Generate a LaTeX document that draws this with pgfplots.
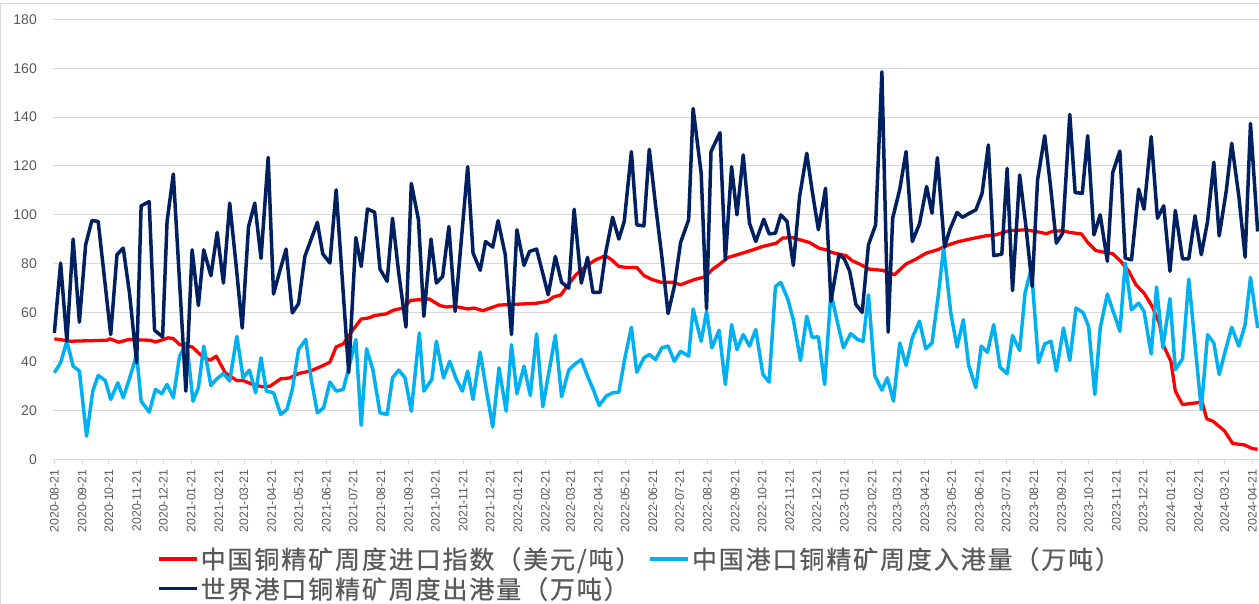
\documentclass[border=0pt]{standalone}
\usepackage{fontspec}
\usepackage{pgfplots}
\usepackage{pgfplotstable}
\pgfplotsset{compat=1.18}
\setmainfont{Liberation Sans}
\newfontfamily\cjk[LetterSpace=7.5,FakeBold=0.6]{Noto Sans CJK SC}
\definecolor{cred}{HTML}{FF0000}
\definecolor{ccyan}{HTML}{00B0F0}
\definecolor{cnavy}{HTML}{002060}
\definecolor{cgrid}{HTML}{D9D9D9}
\definecolor{ctext}{HTML}{595959}

% x = days since 2020-08-21
\pgfplotstableread{
d v
0 49.3
18 48.3
59 48.7
62 49.3
72 47.9
83 49.0
107 48.7
113 48.0
122 49.0
127 49.7
133 49.4
140 46.9
154 46.0
165 42.2
174 40.5
181 42.2
191 35.4
204 32.2
211 32.2
222 30.6
232 29.7
241 29.9
253 32.9
263 33.3
273 35.1
286 36.1
297 37.8
308 39.7
315 46.0
323 47.2
334 53.1
343 57.4
351 57.8
358 58.8
371 59.5
379 61.0
390 61.9
398 65.0
419 65.6
431 62.9
438 62.3
447 62.6
462 61.5
469 61.9
479 60.8
497 63.1
538 63.8
551 64.6
558 66.4
566 67.2
573 70.7
583 75.5
594 78.9
605 81.6
616 83.3
623 81.6
631 78.9
639 78.5
651 78.5
659 75.2
667 73.7
678 72.4
691 72.4
700 71.4
715 73.5
727 74.6
736 77.8
744 79.9
753 82.6
760 83.3
781 85.7
792 87.1
807 88.4
814 90.5
825 90.7
844 88.7
855 86.3
863 85.7
869 84.6
885 83.3
892 81.2
900 79.9
911 77.8
926 77.3
939 75.5
952 79.9
963 81.9
975 84.4
987 85.7
1000 87.8
1011 89.1
1026 90.3
1041 91.4
1052 91.8
1067 93.5
1086 93.9
1101 92.9
1109 92.3
1116 93.3
1127 93.5
1135 92.8
1148 92.2
1155 88.7
1164 85.4
1175 84.6
1183 84.1
1192 81.0
1201 76.9
1209 71.4
1218 68.0
1227 62.6
1235 55.8
1240 46.3
1248 40.1
1253 27.9
1261 22.4
1283 23.4
1288 16.6
1295 15.6
1308 11.6
1317 6.5
1330 5.9
1339 4.4
1345 4.1
}\redtable

\pgfplotstableread{
d v
0 35.4
7 39.5
14 48.3
21 38.1
28 36.1
36 9.5
43 27.9
49 34.3
57 32.2
63 24.5
71 31.3
77 25.2
84 33.0
92 42.9
97 23.8
106 19.3
113 28.6
120 26.8
126 30.6
133 25.2
140 42.2
148 47.6
155 23.8
161 29.3
167 46.3
175 30.2
181 32.7
189 35.1
196 32.0
204 50.3
211 33.3
218 36.5
225 27.2
231 41.5
237 27.9
245 27.2
253 18.4
260 20.4
266 28.6
273 44.9
281 49.0
287 33.0
294 19.0
301 21.1
308 31.6
315 27.9
323 28.6
337 49.0
343 13.9
349 45.2
356 36.7
364 19.0
372 18.4
378 33.3
385 36.5
392 33.3
399 19.7
408 51.7
413 27.9
422 32.7
427 48.3
435 33.3
442 40.1
449 33.0
456 27.9
462 36.1
468 24.5
476 43.8
483 28.0
490 13.2
497 37.4
505 19.7
511 46.9
517 26.8
525 38.1
532 26.1
539 51.3
546 21.5
560 50.7
567 25.6
575 36.5
582 39.0
589 40.8
596 34.0
603 28.0
609 22.0
617 25.9
624 27.2
631 27.5
638 42.0
645 54.0
651 35.6
659 41.5
665 42.9
672 40.8
679 45.6
686 46.3
693 40.1
700 44.2
709 42.2
714 61.5
723 48.3
729 60.5
735 45.6
743 52.8
750 30.6
757 55.1
763 44.9
770 51.0
777 46.3
784 53.1
792 34.7
799 31.6
806 70.7
812 72.4
820 65.3
826 57.1
834 40.4
841 58.5
847 49.9
854 50.1
861 30.6
868 68.0
875 56.5
882 45.6
890 51.4
898 49.0
904 48.3
910 67.3
917 34.3
925 28.3
931 33.3
938 23.8
945 47.6
952 38.4
959 49.7
967 56.5
974 45.2
981 47.6
988 67.0
994 86.4
1002 59.9
1009 45.9
1016 57.1
1022 38.4
1030 29.3
1036 46.3
1043 43.8
1050 55.1
1057 37.7
1065 35.0
1071 50.6
1079 44.5
1085 68.0
1092 78.2
1100 39.5
1107 47.2
1114 48.3
1120 36.1
1128 53.7
1135 40.4
1142 61.9
1150 59.9
1156 54.4
1163 26.5
1169 53.7
1177 67.6
1184 60.0
1191 52.4
1197 80.3
1204 61.2
1212 63.9
1218 60.5
1226 43.1
1232 70.5
1239 45.6
1247 65.7
1253 36.7
1261 41.1
1268 73.7
1275 47.0
1282 20.4
1289 51.0
1296 47.6
1302 34.7
1309 44.6
1316 54.0
1324 46.3
1331 55.1
1337 74.4
1345 53.7
}\cyantable

\pgfplotstableread{
d v
0 51.7
7 80.3
14 48.3
21 90.1
28 56.1
35 87.8
42 97.7
49 97.3
63 51.0
70 83.7
77 86.4
84 68.0
92 39.5
97 103.7
106 105.4
112 52.8
121 50.1
126 97.3
133 116.7
147 27.9
154 85.7
161 62.9
167 85.7
175 75.1
182 92.8
189 72.1
196 104.8
203 80.0
210 53.7
217 95.0
224 104.8
231 82.2
239 123.5
245 67.6
252 77.0
259 86.0
266 59.9
273 63.7
280 83.0
287 90.0
294 96.9
300 84.1
308 80.3
315 110.2
322 73.0
329 35.5
337 90.7
343 78.9
350 102.4
358 101.1
364 77.8
372 72.8
378 98.6
385 76.0
393 54.1
399 112.9
407 98.0
413 58.5
421 90.1
427 72.1
434 74.8
441 95.2
448 60.5
455 90.0
462 119.7
468 84.4
476 77.3
482 89.1
490 86.8
496 97.6
504 83.7
511 51.0
517 93.9
525 79.3
531 85.0
539 86.0
546 76.0
552 67.3
560 83.0
567 72.4
575 70.0
581 102.3
589 72.1
596 82.6
602 68.3
610 68.3
616 84.0
624 99.0
631 90.1
637 97.3
645 125.9
651 95.9
659 95.5
665 126.8
672 104.0
679 83.0
686 59.6
693 70.7
700 88.7
709 98.0
714 143.5
723 117.0
729 61.5
734 125.9
744 133.6
750 81.6
757 119.7
763 100.0
770 124.5
777 96.6
784 89.1
793 98.2
799 92.2
806 92.5
812 100.0
819 97.3
826 79.3
833 107.5
841 125.2
847 110.0
854 93.9
862 110.9
868 64.6
877 83.7
883 82.0
889 76.9
896 63.3
903 60.1
910 87.8
918 95.9
925 158.5
932 52.0
937 98.6
945 110.5
952 125.9
959 89.1
967 96.3
975 111.6
981 100.7
987 123.4
995 86.8
1001 94.0
1009 101.0
1015 99.0
1023 100.7
1030 102.0
1037 108.8
1044 128.6
1050 83.3
1059 83.9
1065 119.0
1071 69.0
1079 116.3
1086 95.2
1093 70.7
1099 114.3
1107 132.4
1114 110.0
1120 88.4
1127 92.5
1135 141.1
1141 109.1
1149 108.8
1155 132.4
1162 91.8
1169 100.0
1177 81.0
1183 117.3
1191 126.1
1197 82.3
1204 81.6
1212 110.5
1218 102.3
1226 132.0
1233 98.6
1240 103.7
1247 76.9
1253 101.8
1261 82.0
1268 82.0
1275 99.6
1282 83.7
1289 97.3
1296 121.5
1302 91.4
1310 110.0
1316 129.3
1324 107.5
1331 82.7
1337 137.4
1345 93.2
}\navytable

\begin{document}
\begin{tikzpicture}
\draw[cgrid, line width=1pt] (0.7pt,-10pt) rectangle (1280pt,599.7pt);
\begin{axis}[
  at={(53pt,143.7pt)}, anchor=south west,
  scale only axis, width=1206pt, height=440pt,
  xmin=-1.5, xmax=1346.5, ymin=0, ymax=180,
  axis x line*=bottom, axis y line*=left,
  x axis line style={cgrid, line width=1pt, -},
  y axis line style={draw=none},
  ytick={0,20,...,180},
  ymajorgrids, grid style={cgrid, line width=1pt},
  xtick={0,31,61,92,122,153,184,212,243,273,304,334,365,396,426,457,487,518,549,577,608,638,669,699,730,761,791,822,852,883,914,942,973,1003,1034,1064,1095,1126,1156,1187,1217,1248,1279,1308,1339},
  xticklabels={2020-08-21,2020-09-21,2020-10-21,2020-11-21,2020-12-21,2021-01-21,2021-02-21,2021-03-21,2021-04-21,2021-05-21,2021-06-21,2021-07-21,2021-08-21,2021-09-21,2021-10-21,2021-11-21,2021-12-21,2022-01-21,2022-02-21,2022-03-21,2022-04-21,2022-05-21,2022-06-21,2022-07-21,2022-08-21,2022-09-21,2022-10-21,2022-11-21,2022-12-21,2023-01-21,2023-02-21,2023-03-21,2023-04-21,2023-05-21,2023-06-21,2023-07-21,2023-08-21,2023-09-21,2023-10-21,2023-11-21,2023-12-21,2024-01-21,2024-02-21,2024-03-21,2024-04-21},
  tick align=outside,
  x tick style={cgrid, line width=1pt},
  y tick style={draw=none},
  major tick length=5pt,
  xticklabel style={rotate=90, anchor=east, font=\fontsize{12.3}{12.3}\selectfont, text=ctext, inner sep=0pt, xshift=-5pt},
  yticklabel style={font=\fontsize{14}{14}\selectfont, text=ctext, anchor=east, inner sep=0pt, xshift=-11pt},
  /pgf/number format/assume math mode=true,
  legend columns=2,
  legend cell align=left,
  legend style={at={(0.0862,-0.195)}, anchor=north west, draw=none, fill=none,
    font=\cjk\fontsize{25}{25}\selectfont, text=ctext,
    /tikz/every even column/.append style={column sep=6pt},
    row sep=3pt, inner sep=0pt},
  legend image code/.code={\draw[#1, line width=3.5pt] (0pt,0pt) -- (38pt,0pt);},
  line join=round,
]
\addplot[cred, line width=3.3pt] table[x=d, y=v] {\redtable};
\addlegendentry{中国铜精矿周度进口指数（美元/吨）}
\addplot[ccyan, line width=3.5pt] table[x=d, y=v] {\cyantable};
\addlegendentry{中国港口铜精矿周度入港量（万吨）}
\addplot[cnavy, line width=3.5pt] table[x=d, y=v] {\navytable};
\addlegendentry{世界港口铜精矿周度出港量（万吨）}
\end{axis}
\pgfresetboundingbox
\path[use as bounding box] (0,0) rectangle (1259pt,603pt);
\end{tikzpicture}
\end{document}
